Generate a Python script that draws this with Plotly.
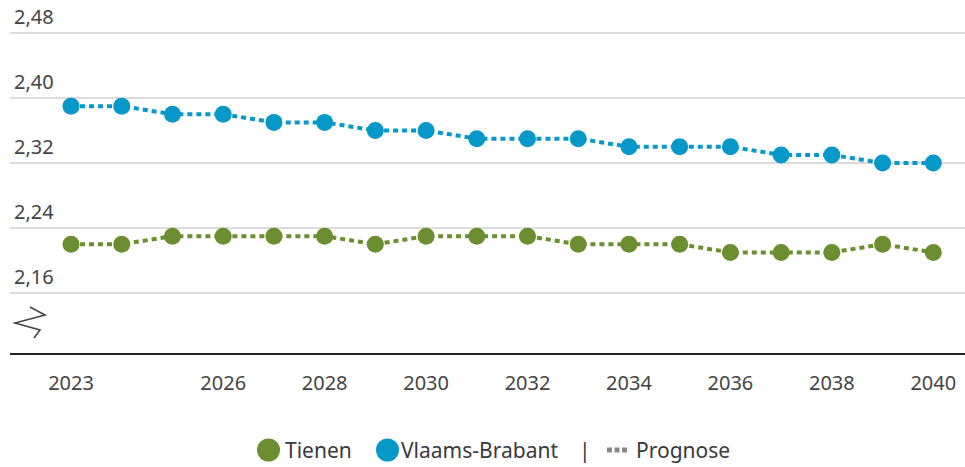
import plotly.graph_objects as go

years = list(range(2023, 2041))
tienen = [2.22, 2.22, 2.23, 2.23, 2.23, 2.23, 2.22, 2.23, 2.23, 2.23,
          2.22, 2.22, 2.22, 2.21, 2.21, 2.21, 2.22, 2.21]
vlaams_brabant = [2.39, 2.39, 2.38, 2.38, 2.37, 2.37, 2.36, 2.36, 2.35, 2.35,
                  2.35, 2.34, 2.34, 2.34, 2.33, 2.33, 2.32, 2.32]
x_ticks = [2023, 2026, 2028, 2030, 2032, 2034, 2036, 2038, 2040]
y_ticks = [2.16, 2.24, 2.32, 2.40, 2.48]

GREEN = "#6a8e30"
BLUE = "#0598c8"
FONT = "Noto Sans"
TXT = "#3a3a3a"

W, H = 965, 467
ML, MR, MT, MB = 10, 0, 10, 114
PW, PH = W - ML - MR, H - MT - MB


def px(x):
    return (x - ML) / PW


def py(y):
    return (H - MB - y) / PH


fig = go.Figure()
for name, vals, col in [("Tienen", tienen, GREEN), ("Vlaams-Brabant", vlaams_brabant, BLUE)]:
    fig.add_trace(go.Scatter(
        x=years, y=vals, name=name, mode="lines+markers",
        line=dict(color=col, width=4, dash="5px,4px"),
        marker=dict(color=col, size=17),
        showlegend=False,
        hovertemplate="%{x}: %{y:.2f}<extra>" + name + "</extra>",
    ))

fig.update_layout(
    width=W, height=H,
    margin=dict(l=ML, r=MR, t=MT, b=MB),
    plot_bgcolor="white", paper_bgcolor="white",
    separators=",.",
    font=dict(family=FONT, size=20, color=TXT),
    xaxis=dict(
        range=[2021.797, 2040.625],
        tickvals=x_ticks, ticktext=[str(v) for v in x_ticks],
        showgrid=False, zeroline=False,
        showline=True, linecolor="#222", linewidth=2,
        ticks="", ticklabelstandoff=11,
        tickfont=dict(size=20, color="#444"),
        fixedrange=True,
    ),
    yaxis=dict(
        range=[2.0862, 2.5083],
        tickvals=y_ticks,
        showticklabels=False,
        showgrid=True, gridcolor="#dcdcdc", gridwidth=2,
        zeroline=False, showline=False, ticks="",
        fixedrange=True,
    ),
)

# y tick labels, left-aligned above their grid lines
for v in y_ticks:
    fig.add_annotation(x=px(12), xref="paper", y=v, yref="y",
                       text=f"{v:.2f}".replace(".", ","), showarrow=False,
                       xanchor="left", yanchor="bottom", yshift=1,
                       font=dict(family=FONT, size=20, color="#444"))

# axis break symbol
pts = [(30, 307), (45, 315), (15, 323), (40, 330), (34, 338)]
path = "M " + " L ".join(f"{px(a):.5f},{py(b):.5f}" for a, b in pts)
fig.add_shape(type="path", xref="paper", yref="paper", path=path,
              line=dict(color="#444", width=1.6))

# legend
ly = 450
for cx, col in [(268.5, GREEN), (387.5, BLUE)]:
    r = 11.5
    fig.add_shape(type="circle", xref="paper", yref="paper",
                  x0=px(cx - r), x1=px(cx + r), y0=py(ly + r), y1=py(ly - r),
                  fillcolor=col, line=dict(width=0))
for sx in [607, 614.5, 622]:
    fig.add_shape(type="rect", xref="paper", yref="paper",
                  x0=px(sx), x1=px(sx + 5), y0=py(ly + 2.5), y1=py(ly - 2.5),
                  fillcolor="#888", line=dict(width=0))
for tx, text in [(283, "Tienen"), (399, "Vlaams-Brabant"), (577, "|"), (634, "Prognose")]:
    fig.add_annotation(x=px(tx), y=py(ly), xref="paper", yref="paper",
                       text=text, showarrow=False, xanchor="left", yanchor="middle",
                       font=dict(family=FONT, size=21, color=TXT))

fig.write_html("out.html", config={"displayModeBar": False},
               post_script="document.body.style.margin='0';document.body.style.overflow='hidden';")
